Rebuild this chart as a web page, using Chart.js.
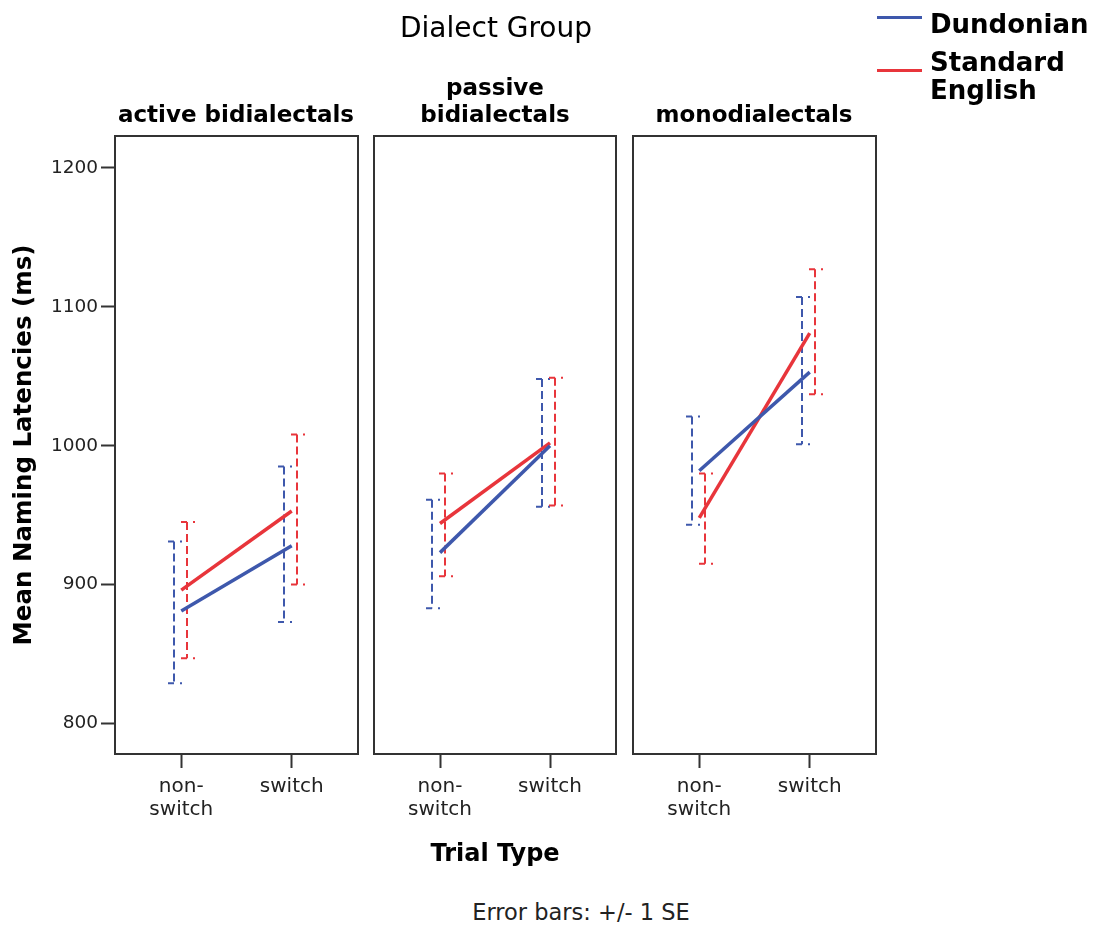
<!DOCTYPE html>
<html>
<head>
<meta charset="utf-8">
<script src="https://cdn.jsdelivr.net/npm/chart.js@4/dist/chart.umd.min.js"></script>
<style>
html,body{margin:0;padding:0;background:#fff;}
#wrap{position:relative;width:1097px;height:927px;overflow:hidden;font-family:"DejaVu Sans",sans-serif;color:#000;}
canvas{position:absolute;top:0;}
.t{position:absolute;white-space:nowrap;text-align:center;}
</style>
</head>
<body>
<div id="wrap">
  <canvas id="p0" style="left:0px" width="360" height="880"></canvas>
  <canvas id="p1" style="left:372px" width="246" height="880"></canvas>
  <canvas id="p2" style="left:631px" width="247" height="880"></canvas>

  <div class="t" id="mainTitle" style="left:346px;width:300px;top:11px;font-size:28px;line-height:33px;">Dialect Group</div>
  <div class="t" id="h0" style="left:86px;width:300px;top:101px;font-size:23px;line-height:27px;font-weight:bold;"></div>
  <div class="t" id="h1" style="left:345px;width:300px;top:74px;font-size:23px;line-height:27px;font-weight:bold;"></div>
  <div class="t" id="h2" style="left:604px;width:300px;top:101px;font-size:23px;line-height:27px;font-weight:bold;"></div>

  <div id="legend" style="position:absolute;left:877px;top:0;width:220px;height:110px;"></div>

  <div class="t" id="footer" style="left:431px;width:300px;top:899px;font-size:22.5px;line-height:26px;color:#222;">Error bars: +/- 1 SE</div>
</div>
<script>
// ---------------- data ----------------
const dialectGroups = [['active bidialectals'], ['passive', 'bidialectals'], ['monodialectals']];
const trialTypes = ['non-switch', 'switch'];
const trialTypeTickLabels = [['non-', 'switch'], ['switch']];
const seriesNames = ['Dundonian', ['Standard', 'English']];
const yTicks = [800, 900, 1000, 1100, 1200];

// means per dialect group (non-switch, switch)
const dundonianMeans = [[881, 928], [923, 1000], [982, 1053]];
const standardMeans  = [[896, 953], [944, 1002], [948, 1081]];
// +/- 1 SE bounds
const dundonianLow  = [[829, 873], [883, 956], [943, 1001]];
const dundonianHigh = [[931, 985], [961, 1048], [1021, 1107]];
const standardLow   = [[847, 900], [906, 957], [915, 1037]];
const standardHigh  = [[945, 1008], [980, 1049], [980, 1127]];

// ---------------- styles ----------------
const BLUE = '#3e58ac';
const RED = '#e8353b';
const FONT = '"DejaVu Sans", sans-serif';

// ---------------- html text ----------------
dialectGroups.forEach((g, i) => { document.getElementById('h' + i).innerHTML = g.join('<br>'); });
const legendEl = document.getElementById('legend');
legendEl.innerHTML =
  '<div style="position:absolute;left:0;top:16px;width:45px;height:3px;background:' + BLUE + '"></div>' +
  '<div style="position:absolute;left:53px;top:10px;font-size:26px;line-height:28px;font-weight:bold;white-space:nowrap;">' + seriesNames[0] + '</div>' +
  '<div style="position:absolute;left:0;top:69px;width:45px;height:3px;background:' + RED + '"></div>' +
  '<div style="position:absolute;left:53px;top:48px;font-size:26px;line-height:28px;font-weight:bold;white-space:nowrap;">' + seriesNames[1].join('<br>') + '</div>';

// ---------------- plugins ----------------
const errorBars = {
  id: 'errorBars',
  beforeDatasetsDraw(chart) {
    const {ctx, scales: {x, y}} = chart;
    chart.data.datasets.forEach(ds => {
      ds.errLow.forEach((lo, i) => {
        const hi = ds.errHigh[i];
        const px = Math.round(x.getPixelForValue(i + ds.errOffset));
        const pLo = y.getPixelForValue(lo);
        const pHi = y.getPixelForValue(hi);
        ctx.save();
        ctx.strokeStyle = ds.borderColor;
        ctx.lineWidth = 2;
        ctx.setLineDash([8, 4]);
        ctx.beginPath();
        ctx.moveTo(px, pHi);
        ctx.lineTo(px, pLo);
        ctx.stroke();
        ctx.setLineDash([6, 6]);
        ctx.beginPath();
        ctx.moveTo(px - 6, pHi); ctx.lineTo(px + 8, pHi);
        ctx.moveTo(px - 6, pLo); ctx.lineTo(px + 8, pLo);
        ctx.stroke();
        ctx.restore();
      });
    });
  }
};

const frame = {
  id: 'frame',
  afterDraw(chart) {
    const {ctx, chartArea: a} = chart;
    ctx.save();
    ctx.strokeStyle = '#333';
    ctx.lineWidth = 2;
    ctx.strokeRect(a.left, a.top, a.right - a.left, a.bottom - a.top);
    ctx.restore();
  }
};

// ---------------- charts ----------------
function makeChart(p, canvasId) {
  const first = p === 0;
  const middle = p === 1;
  return new Chart(document.getElementById(canvasId), {
    type: 'line',
    data: {
      datasets: [
        {
          label: seriesNames[0],
          data: trialTypes.map((t, i) => ({x: i, y: dundonianMeans[p][i]})),
          borderColor: BLUE, backgroundColor: BLUE,
          errLow: dundonianLow[p], errHigh: dundonianHigh[p], errOffset: -0.07
        },
        {
          label: seriesNames[1].join(' '),
          data: trialTypes.map((t, i) => ({x: i, y: standardMeans[p][i]})),
          borderColor: RED, backgroundColor: RED,
          errLow: standardLow[p], errHigh: standardHigh[p], errOffset: 0.05
        }
      ]
    },
    options: {
      responsive: false,
      animation: false,
      devicePixelRatio: 1,
      elements: {
        line: {borderWidth: 3.5, tension: 0},
        point: {radius: 0, hoverRadius: 0}
      },
      layout: {padding: {top: 136, bottom: 0, left: first ? 0 : 2, right: 2}},
      plugins: {legend: {display: false}, tooltip: {enabled: false}, title: {display: false}},
      scales: {
        x: {
          type: 'linear',
          min: -0.6, max: 1.6,
          afterFit(s) { s.height = 126; },
          afterBuildTicks(s) { s.ticks = trialTypes.map((t, i) => ({value: i})); },
          grid: {display: true, drawOnChartArea: false, drawTicks: true, tickLength: 14, tickColor: '#333', tickWidth: 2},
          border: {display: false},
          ticks: {
            autoSkip: false, maxRotation: 0, padding: 8, color: '#222',
            font: {family: FONT, size: 20, lineHeight: 1.12},
            callback: (v) => trialTypeTickLabels[v]
          },
          title: {
            display: middle, text: 'Trial Type', color: '#000',
            font: {family: FONT, size: 24, weight: 'bold'},
            padding: {top: 0, bottom: 11}
          }
        },
        y: {
          type: 'linear',
          display: first,
          min: 778, max: 1223,
          afterFit(s) { s.width = first ? 115 : 0; },
          afterBuildTicks(s) { s.ticks = yTicks.map(v => ({value: v})); },
          grid: {display: true, drawOnChartArea: false, drawTicks: true, tickLength: 14, tickColor: '#333', tickWidth: 2},
          border: {display: false},
          ticks: {padding: 3, color: '#222', font: {family: FONT, size: 18.5}, callback: (v) => String(v)},
          title: {
            display: true, text: 'Mean Naming Latencies (ms)', color: '#000',
            font: {family: FONT, size: 24.5, weight: 'bold'},
            padding: {top: 10, bottom: 0}
          }
        }
      }
    },
    plugins: [errorBars, frame]
  });
}

makeChart(0, 'p0');
makeChart(1, 'p1');
makeChart(2, 'p2');
</script>
</body>
</html>
